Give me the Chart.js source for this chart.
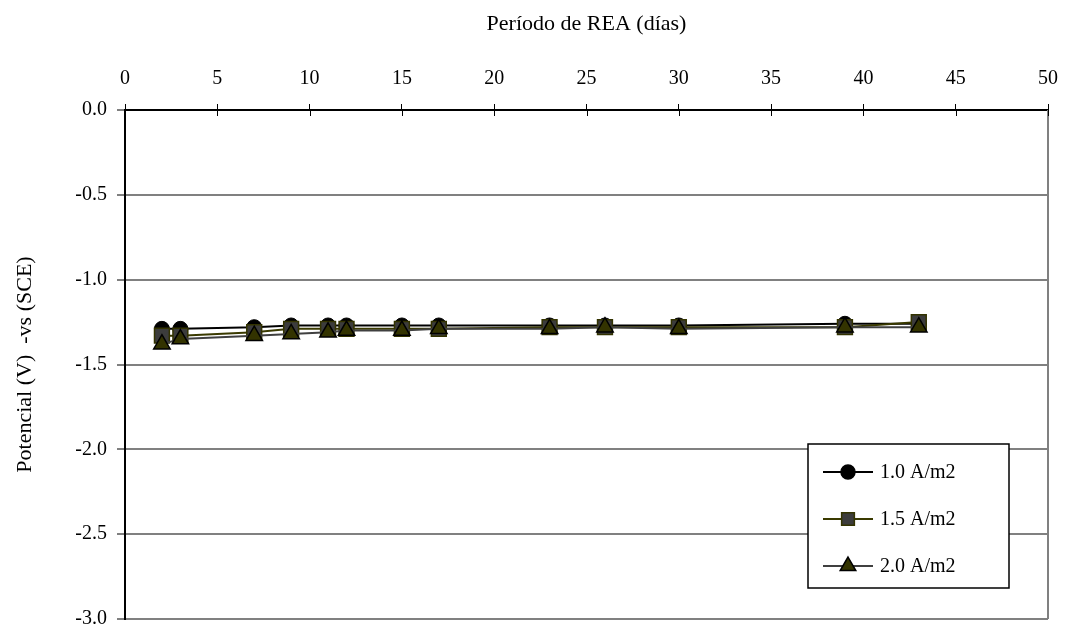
<!DOCTYPE html>
<html>
<head>
<meta charset="utf-8">
<script src="https://cdn.jsdelivr.net/npm/chart.js@4/dist/chart.umd.min.js"></script>
<style>
html,body{margin:0;padding:0;background:#fff;}
#wrap{width:1071px;height:641px;position:relative;}
</style>
</head>
<body>
<div id="wrap"><canvas id="c" width="1071" height="641"></canvas></div>
<script>
const days = [2, 3, 7, 9, 11, 12, 15, 17, 23, 26, 30, 39, 43];
const s10 = [-1.29, -1.29, -1.28, -1.27, -1.27, -1.27, -1.27, -1.27, -1.27, -1.27, -1.27, -1.26, -1.26];
const s15 = [-1.33, -1.33, -1.31, -1.29, -1.29, -1.29, -1.29, -1.29, -1.28, -1.28, -1.28, -1.28, -1.25];
const s20 = [-1.38, -1.35, -1.33, -1.32, -1.31, -1.30, -1.30, -1.29, -1.29, -1.28, -1.29, -1.28, -1.28];
const seriesLabels = ['1.0 A/m2', '1.5 A/m2', '2.0 A/m2'];
const xTitle = 'Período de REA (días)';
const yTitle = 'Potencial (V)  -vs (SCE)';

const FONT = "'Liberation Serif', 'Times New Roman', serif";
const pts = arr => days.map((d, i) => ({x: d, y: arr[i]}));

const extras = {
  id: 'extras',
  afterDraw(chart) {
    const ctx = chart.ctx, a = chart.chartArea;
    const xs = chart.scales.x;
    ctx.save();
    // right border
    ctx.strokeStyle = '#808080'; ctx.lineWidth = 2;
    ctx.beginPath(); ctx.moveTo(a.right, a.top); ctx.lineTo(a.right, a.bottom); ctx.stroke();
    // inner half of crossing ticks
    ctx.strokeStyle = '#000'; ctx.lineWidth = 1;
    xs.ticks.forEach(t => {
      const px = Math.round(xs.getPixelForValue(t.value)) + 0.5;
      ctx.beginPath(); ctx.moveTo(px, a.top); ctx.lineTo(px, a.top + 6); ctx.stroke();
    });
    // legend
    const L = 808, T = 444, R = 1009, B = 588;
    ctx.fillStyle = '#fff'; ctx.fillRect(L, T, R - L, B - T);
    ctx.strokeStyle = '#000'; ctx.lineWidth = 1.5;
    ctx.strokeRect(L, T, R - L, B - T);
    const rows = [472, 519, 566];
    chart.data.datasets.forEach((ds, i) => {
      const y = rows[i];
      ctx.strokeStyle = ds.borderColor; ctx.lineWidth = 2;
      ctx.beginPath(); ctx.moveTo(823, y); ctx.lineTo(873, y); ctx.stroke();
      ctx.fillStyle = ds.pointBackgroundColor; ctx.strokeStyle = ds.pointBorderColor; ctx.lineWidth = 1.5;
      Chart.helpers.drawPoint(ctx, {pointStyle: ds.pointStyle, rotation: 0, borderWidth: 1.5, radius: ds.legendRadius}, 848, y);
      ctx.fillStyle = '#000'; ctx.font = "20px " + FONT; ctx.textBaseline = 'middle'; ctx.textAlign = 'left';
      ctx.fillText(ds.label, 880, y + 1);
    });
    ctx.restore();
  }
};

new Chart(document.getElementById('c'), {
  type: 'line',
  data: {
    datasets: [
      {label: seriesLabels[0], data: pts(s10), borderColor: '#000000', borderWidth: 2,
       pointStyle: 'circle', pointRadius: 7.5, pointBackgroundColor: '#000000', pointBorderColor: '#000000', pointBorderWidth: 1,
       legendRadius: 7, order: 3},
      {label: seriesLabels[1], data: pts(s15), borderColor: '#3a3a00', borderWidth: 2,
       pointStyle: 'rect', pointRadius: 10.5, pointBackgroundColor: '#3c3c3c', pointBorderColor: '#333300', pointBorderWidth: 1.5,
       legendRadius: 9, order: 2},
      {label: seriesLabels[2], data: pts(s20), borderColor: '#404040', borderWidth: 2,
       pointStyle: 'triangle', pointRadius: 9.5, pointBackgroundColor: '#333300', pointBorderColor: '#000000', pointBorderWidth: 1.5,
       legendRadius: 9, order: 1}
    ]
  },
  options: {
    responsive: false,
    animation: false,
    events: [],
    layout: {padding: {left: 0, top: 0, right: 19, bottom: 11}},
    plugins: {legend: {display: false}, tooltip: {enabled: false}},
    elements: {line: {tension: 0}},
    scales: {
      x: {
        type: 'linear', position: 'top', min: 0, max: 50,
        afterFit: s => { s.height = 110; },
        ticks: {stepSize: 5, color: '#000', font: {family: FONT, size: 20}, padding: 13, maxRotation: 0},
        grid: {drawOnChartArea: false, drawTicks: true, tickLength: 6, tickColor: '#000', tickWidth: 1},
        border: {color: '#000', width: 2},
        title: {display: true, text: xTitle, color: '#000', font: {family: FONT, size: 22}, padding: {top: 11, bottom: 0}}
      },
      y: {
        type: 'linear', min: -3, max: 0,
        afterFit: s => { s.width = 125; },
        ticks: {stepSize: 0.5, color: '#000', font: {family: FONT, size: 20}, padding: 10,
                callback: v => v.toFixed(1)},
        grid: {color: '#808080', lineWidth: 2, drawTicks: true, tickLength: 8, tickColor: '#000', tickWidth: 1},
        border: {color: '#000', width: 2},
        title: {display: true, text: yTitle, color: '#000', font: {family: FONT, size: 22}, padding: {top: 12, bottom: 0}}
      }
    }
  },
  plugins: [extras]
});
</script>
</body>
</html>
